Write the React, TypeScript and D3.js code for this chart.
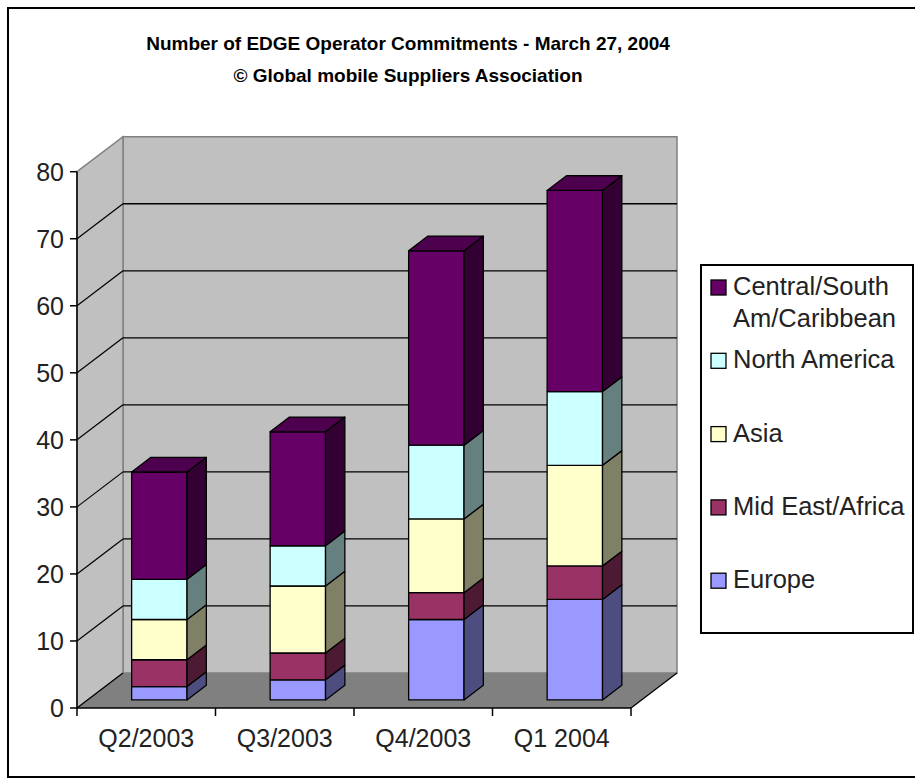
import React from 'react';
import * as d3 from 'd3';

// values
const categories = ['Q2/2003', 'Q3/2003', 'Q4/2003', 'Q1 2004'];
const europe = [2, 3, 12, 15];
const midEastAfrica = [4, 4, 4, 5];
const asia = [6, 10, 11, 15];
const northAmerica = [6, 6, 11, 11];
const centralSouthAm = [16, 17, 29, 30];

const seriesKeys = ['Europe', 'Mid East/Africa', 'Asia', 'North America', 'Central/South Am/Caribbean'];
const seriesValues = [europe, midEastAfrica, asia, northAmerica, centralSouthAm];
const seriesColors = ['#9999FF', '#993366', '#FFFFCC', '#CCFFFF', '#660066'];
const legendLabels = [['Central/South', 'Am/Caribbean'], ['North America'], ['Asia'], ['Mid East/Africa'], ['Europe']];
const yTicks = [0, 10, 20, 30, 40, 50, 60, 70, 80];

const W = 915;
const H = 782;
const DX = 46; // depth offset of the 3d box
const DY = -35;
const Z0 = 0.23; // bar front depth
const Z1 = 0.65; // bar back depth
const BAR_SHIFT = 2.5;
const FONT = '"Liberation Sans", Arial, sans-serif';

const shade = (c: string, k: number) => {
  const r = d3.rgb(c);
  return d3.rgb(r.r * k, r.g * k, r.b * k).formatHex();
};

export default function App() {
  const x = d3.scaleBand<string>().domain(categories).range([77, 631]).paddingInner(0.6).paddingOuter(0.3);
  const y = d3.scaleLinear().domain([0, 80]).range([708, 171.7]);

  const rows = categories.map((c, i) => {
    const r: any = { cat: c };
    seriesKeys.forEach((k, j) => (r[k] = seriesValues[j][i]));
    return r;
  });
  const stacked = d3.stack<any>().keys(seriesKeys)(rows);

  const p = (px: number, py: number, z: number) => `${px + z * DX},${py + z * DY}`;
  const poly = (pts: string[]) => pts.join(' ');

  const [x0, x1] = x.range();
  const y0 = y(0);
  const yTop = y(80);

  const boundaries = categories.map((c) => x(c)! - x.step() * 0.3).concat([x1]);

  return (
    <svg width={W} height={H} style={{ position: 'absolute', left: 0, top: 0, background: '#fff' }} fontFamily={FONT}>
      <rect x={8} y={8} width={940} height={769} fill="#fff" stroke="#000" strokeWidth={2} />

      <text x={408} y={50} textAnchor="middle" fontSize={19} fontWeight="bold">
        Number of EDGE Operator Commitments - March 27, 2004
      </text>
      <text x={408} y={82} textAnchor="middle" fontSize={19} fontWeight="bold">
        © Global mobile Suppliers Association
      </text>

      {/* walls and floor */}
      <polygon points={poly([p(x0, y0, 1), p(x1, y0, 1), p(x1, yTop, 1), p(x0, yTop, 1)])} fill="#C0C0C0" stroke="#808080" strokeWidth={1.5} />
      <polygon points={poly([p(x0, y0, 0), p(x0, y0, 1), p(x0, yTop, 1), p(x0, yTop, 0)])} fill="#C0C0C0" stroke="#808080" strokeWidth={1.5} />
      <polygon points={poly([p(x0, y0, 0), p(x1, y0, 0), p(x1, y0, 1), p(x0, y0, 1)])} fill="#808080" />

      {yTicks.filter((t) => t > 0 && t < 80).map((t) => (
        <g key={t}>
          <line x1={x0 + DX} x2={x1 + DX} y1={y(t) + DY} y2={y(t) + DY} stroke="#000" strokeWidth={1.3} />
          <line x1={x0} x2={x0 + DX} y1={y(t)} y2={y(t) + DY} stroke="#000" strokeWidth={1.2} />
        </g>
      ))}
      <line x1={x0} x2={x0 + DX} y1={y0} y2={y0 + DY} stroke="#000" strokeWidth={1.2} />

      {/* bars */}
      {categories.map((c, i) => {
        const bx0 = x(c)! + BAR_SHIFT;
        const bx1 = bx0 + x.bandwidth();
        return (
          <g key={c}>
            {stacked.map((s, j) => {
              const v0 = y(s[i][0]);
              const v1 = y(s[i][1]);
              const col = seriesColors[j];
              const last = j === stacked.length - 1;
              return (
                <g key={s.key} stroke="#000" strokeWidth={1.3} strokeLinejoin="round">
                  <polygon points={poly([p(bx0, v0, Z0), p(bx1, v0, Z0), p(bx1, v1, Z0), p(bx0, v1, Z0)])} fill={col} />
                  <polygon points={poly([p(bx1, v0, Z0), p(bx1, v0, Z1), p(bx1, v1, Z1), p(bx1, v1, Z0)])} fill={shade(col, 0.5)} />
                  {last && (
                    <polygon points={poly([p(bx0, v1, Z0), p(bx1, v1, Z0), p(bx1, v1, Z1), p(bx0, v1, Z1)])} fill={shade(col, 0.75)} />
                  )}
                </g>
              );
            })}
          </g>
        );
      })}

      {/* y axis */}
      <line x1={x0} x2={x0} y1={yTop} y2={y0} stroke="#000" strokeWidth={1.5} />
      {yTicks.map((t) => (
        <g key={t}>
          <line x1={x0 - 7} x2={x0} y1={y(t)} y2={y(t)} stroke="#000" strokeWidth={1.5} />
          <text x={x0 - 13} y={y(t)} textAnchor="end" dominantBaseline="central" fontSize={25} fill="#222">
            {t}
          </text>
        </g>
      ))}

      {/* x axis */}
      <line x1={x0} x2={x1} y1={y0} y2={y0} stroke="#000" strokeWidth={1.5} />
      <line x1={x1} x2={x1 + DX} y1={y0} y2={y0 + DY} stroke="#000" strokeWidth={1.3} />
      {boundaries.map((b, i) => (
        <line key={i} x1={b} x2={b} y1={y0} y2={y0 + 8} stroke="#000" strokeWidth={1.5} />
      ))}
      {categories.map((c) => (
        <text key={c} x={x(c)! + x.bandwidth() / 2} y={747} textAnchor="middle" fontSize={25} fill="#222">
          {c}
        </text>
      ))}

      {/* legend */}
      <rect x={701} y={265} width={212} height={368} fill="#fff" stroke="#000" strokeWidth={2} />
      {legendLabels.map((lines, i) => {
        const base = 295 + i * 73.3;
        const col = seriesColors[seriesColors.length - 1 - i];
        return (
          <g key={i}>
            <rect x={711} y={base - 15} width={15} height={15} fill={col} stroke="#000" strokeWidth={1.3} />
            {lines.map((l, k) => (
              <text key={k} x={733} y={base + k * 31.7} fontSize={25.5} fill="#222">
                {l}
              </text>
            ))}
          </g>
        );
      })}
    </svg>
  );
}
